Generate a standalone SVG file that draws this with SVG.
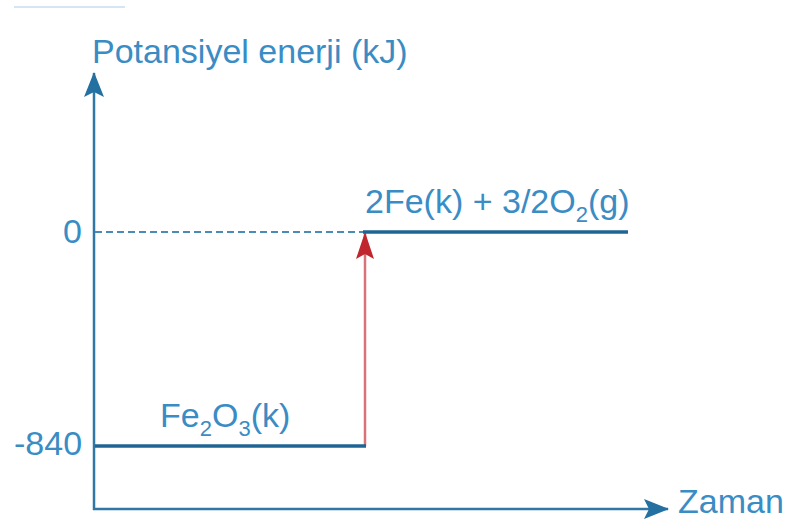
<svg xmlns="http://www.w3.org/2000/svg" width="790" height="522" viewBox="0 0 790 522">
<style>
.t{font-family:"Liberation Sans",Arial,sans-serif;font-size:34px;fill:#3a8cc4}
.s{font-size:22px}
.ax{stroke:#2f77a6;stroke-width:2.5;fill:none}
.lvl{stroke:#1f6594;stroke-width:3.5;fill:none}
</style>
<defs>
<marker id="ab" markerUnits="userSpaceOnUse" markerWidth="26" markerHeight="22" refX="24" refY="11" orient="auto" viewBox="0 0 26 22">
<path d="M0,1 L25,11 L0,21 L5,11 Z" fill="#2470a0"/>
</marker>
<marker id="ar" markerUnits="userSpaceOnUse" markerWidth="28" markerHeight="20" refX="27" refY="10" orient="auto" viewBox="0 0 28 20">
<path d="M0,1 L27,10 L0,19 L5,10 Z" fill="#c0262e"/>
</marker>
</defs>
<line x1="14" y1="7" x2="125" y2="7" stroke="#c9dcf0" stroke-width="1.5"/>
<g id="connectors">
<line id="y-axis" class="ax" x1="94" y1="510" x2="94" y2="73" marker-end="url(#ab)"/>
<line id="x-axis" class="ax" x1="93" y1="509" x2="668" y2="509" marker-end="url(#ab)"/>
<line id="zero-dash" x1="95" y1="232" x2="363" y2="232" stroke="#4a8cb8" stroke-width="2" stroke-dasharray="7,4"/>
<line id="red-arrow" x1="365" y1="446" x2="365" y2="232" stroke="#d9737a" stroke-width="2.5" marker-end="url(#ar)"/>
</g>
<g id="level-products">
<line class="lvl" x1="363" y1="232" x2="628" y2="232"/>
<text class="t" x="365" y="213">2Fe(k) + 3/2O<tspan class="s" dy="9">2</tspan><tspan dy="-9">(g)</tspan></text>
</g>
<g id="level-reactant">
<line class="lvl" x1="95" y1="446" x2="366" y2="446"/>
<text class="t" x="160" y="427">Fe<tspan class="s" dy="9">2</tspan><tspan dy="-9">O</tspan><tspan class="s" dy="9">3</tspan><tspan dy="-9">(k)</tspan></text>
</g>
<g id="labels">
<text class="t" x="92" y="63">Potansiyel enerji (kJ)</text>
<text class="t" x="63" y="243">0</text>
<text class="t" x="14" y="455">-840</text>
<text class="t" x="678" y="513">Zaman</text>
</g>
</svg>
